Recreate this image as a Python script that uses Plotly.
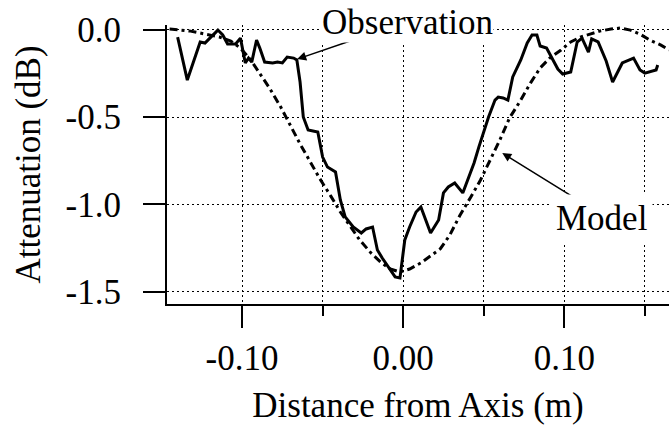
import plotly.graph_objects as go

# observation (measured attenuation)
obs_x = [-0.140, -0.134, -0.126, -0.123, -0.120, -0.115, -0.112, -0.109, -0.104, -0.101,
         -0.098, -0.096, -0.094, -0.091, -0.089, -0.086, -0.081, -0.078, -0.075, -0.072,
         -0.068, -0.066, -0.064, -0.062, -0.059, -0.053, -0.050, -0.047, -0.042, -0.039,
         -0.036, -0.031, -0.026, -0.023, -0.019, -0.016, -0.013, -0.010, -0.005, -0.002,
         0.001, 0.004, 0.008, 0.011, 0.017, 0.022, 0.025, 0.028, 0.032, 0.037,
         0.040, 0.044, 0.047, 0.051, 0.053, 0.057, 0.059, 0.062, 0.065, 0.068,
         0.073, 0.077, 0.080, 0.083, 0.085, 0.089, 0.093, 0.096, 0.099, 0.104,
         0.108, 0.111, 0.115, 0.117, 0.121, 0.126, 0.130, 0.136, 0.143, 0.147,
         0.150, 0.157, 0.158]
obs_y = [-0.043, -0.289, -0.071, -0.077, -0.049, -0.003, -0.031, -0.083, -0.083, -0.049,
         -0.191, -0.163, -0.186, -0.060, -0.106, -0.186, -0.191, -0.186, -0.191, -0.157,
         -0.163, -0.174, -0.300, -0.500, -0.574, -0.586, -0.729, -0.786, -0.814, -0.974,
         -1.071, -1.129, -1.163, -1.140, -1.129, -1.260, -1.306, -1.346, -1.414, -1.420,
         -1.203, -1.129, -1.043, -1.014, -1.163, -1.089, -0.934, -0.900, -0.877, -0.934,
         -0.860, -0.763, -0.671, -0.557, -0.500, -0.403, -0.386, -0.391, -0.403, -0.271,
         -0.174, -0.077, -0.031, -0.031, -0.094, -0.106, -0.174, -0.226, -0.254, -0.243,
         -0.071, -0.049, -0.129, -0.054, -0.071, -0.180, -0.300, -0.191, -0.163, -0.231,
         -0.249, -0.231, -0.203]

# model curve
model_x = [-0.145, -0.139, -0.132, -0.126, -0.120, -0.114, -0.107, -0.101, -0.095, -0.089,
           -0.083, -0.076, -0.070, -0.064, -0.058, -0.052, -0.045, -0.039, -0.033, -0.027,
           -0.020, -0.014, -0.008, -0.002, 0.004, 0.011, 0.017, 0.023, 0.029, 0.035,
           0.042, 0.048, 0.054, 0.060, 0.066, 0.073, 0.079, 0.085, 0.091, 0.098,
           0.104, 0.110, 0.116, 0.122, 0.129, 0.135, 0.141, 0.147, 0.153, 0.160, 0.165]
model_y = [0.003, -0.003, -0.009, -0.020, -0.031, -0.043, -0.066, -0.106, -0.169, -0.249,
           -0.334, -0.443, -0.551, -0.654, -0.751, -0.849, -0.951, -1.043, -1.123, -1.203,
           -1.277, -1.329, -1.369, -1.386, -1.369, -1.334, -1.294, -1.254, -1.174, -1.066,
           -0.957, -0.860, -0.746, -0.631, -0.506, -0.403, -0.306, -0.220, -0.163, -0.117,
           -0.071, -0.043, -0.026, -0.009, 0.003, 0.009, -0.003, -0.026, -0.060, -0.089, -0.117]

x_tickvals = [-0.10, 0.00, 0.10]
x_ticktext = ['-0.10', '0.00', '0.10']
y_tickvals = [0.0, -0.5, -1.0, -1.5]
y_ticktext = ['0.0', '-0.5', '-1.0', '-1.5']

serif = 'Liberation Serif, Times New Roman, serif'
fs = 35

fig = go.Figure()

fig.add_trace(go.Scatter(
    x=model_x, y=model_y, mode='lines', name='Model',
    line=dict(color='black', width=3, dash='8px,4px,3px,4px')
))

fig.add_trace(go.Scatter(
    x=obs_x, y=obs_y, mode='lines', name='Observation',
    line=dict(color='black', width=3)
))

# pijlen en labels
fig.add_annotation(x=-0.0658, y=-0.169, ax=-0.0311, ay=-0.060, axref='x', ayref='y',
                   text='', showarrow=True, arrowhead=2, arrowsize=1.2, arrowwidth=1.5,
                   arrowcolor='black')
fig.add_annotation(x=0.0025, y=1.009, xref='x', yref='paper', yanchor='middle',
                   text='Observation', showarrow=False, borderpad=0,
                   font=dict(family=serif, size=fs, color='black'), bgcolor='white')
fig.add_annotation(x=0.0615, y=-0.706, ax=0.1056, ay=-0.957, axref='x', ayref='y',
                   text='', showarrow=True, arrowhead=2, arrowsize=1.2, arrowwidth=1.5,
                   arrowcolor='black')
fig.add_annotation(x=0.1236, y=-1.083, text='Model', showarrow=False,
                   font=dict(family=serif, size=fs, color='black'), bgcolor='white',
                   borderpad=4)

fig.update_layout(
    width=669, height=425,
    margin=dict(l=167, r=0, t=25, b=121),
    paper_bgcolor='white', plot_bgcolor='white',
    showlegend=False,
    font=dict(family=serif, size=fs, color='black'),
    xaxis=dict(
        range=[-0.1466, 0.165],
        tickvals=x_tickvals, ticktext=x_ticktext,
        ticks='outside', ticklen=22, tickwidth=2, tickcolor='black',
        showline=True, linecolor='black', linewidth=2,
        showgrid=True, gridcolor='black', gridwidth=1, griddash='2px,3px',
        minor=dict(dtick=0.05, tick0=0, ticks='outside', ticklen=10, tickwidth=2,
                   tickcolor='black', showgrid=True, gridcolor='black', gridwidth=1,
                   griddash='2px,3px'),
        zeroline=False,
        ticklabelstandoff=0,
        title=dict(text='Distance from Axis (m)', standoff=18,
                   font=dict(family=serif, size=fs))
    ),
    yaxis=dict(
        range=[-1.569, 0.026],
        tickvals=y_tickvals, ticktext=y_ticktext,
        ticks='outside', ticklen=22, tickwidth=2, tickcolor='black',
        showline=True, linecolor='black', linewidth=2,
        showgrid=True, gridcolor='black', gridwidth=1, griddash='2px,3px',
        zeroline=False,
        ticklabelstandoff=15,
        title=dict(text='Attenuation (dB)', standoff=14,
                   font=dict(family=serif, size=fs))
    )
)

# body-marge weghalen zodat de figuur precies in het venster valt
fig.write_html("out.html", config={'displayModeBar': False},
               post_script="document.body.style.margin='0';")
